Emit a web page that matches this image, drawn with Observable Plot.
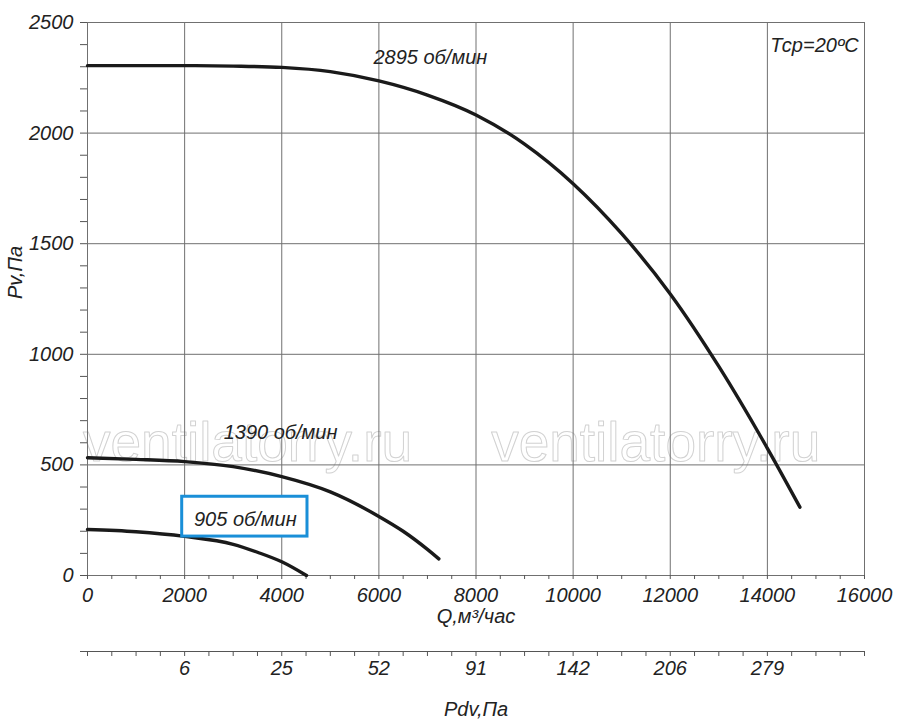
<!DOCTYPE html>
<html>
<head>
<meta charset="utf-8">
<script src="https://cdn.jsdelivr.net/npm/d3@7"></script>
<script src="https://cdn.jsdelivr.net/npm/@observablehq/plot@0.6"></script>
<style>
  body { margin: 0; background: #fff; }
</style>
</head>
<body>
<div id="chart"></div>
<script>
// ---- axis ticks ----
const qMajor = d3.range(0, 16001, 2000);
const qMinor = d3.range(0, 16001, 500);
const pMajor = d3.range(0, 2501, 500);
const pMinor = d3.range(0, 2501, 100);

// secondary (dynamic pressure) axis
const pdvQ = [2000, 4000, 6000, 8000, 10000, 12000, 14000];
const pdvLabels = ["6", "25", "52", "91", "142", "206", "279"];

// ---- curves: Q (м³/час) and Pv (Па) ----
const q2895 = [0, 1000, 2000, 3000, 4000, 5000, 6000, 7000, 8000, 9000, 10000, 11000, 12000, 13000, 14000, 14670];
const p2895 = [2305, 2305, 2305, 2303, 2297, 2278, 2236, 2172, 2082, 1950, 1771, 1545, 1273, 945, 575, 309];

const q1390 = [0, 1000, 2000, 3000, 4000, 5000, 6000, 6500, 7000, 7235];
const p1390 = [532, 525, 515, 492, 447, 378, 267, 200, 118, 75];

const q905 = [0, 1000, 2000, 3000, 3500, 4000, 4510];
const p905 = [208, 198, 177, 141, 105, 62, 0];

// ---- annotations ----
const curveLabels = ["2895 об/мин", "1390 об/мин", "905 об/мин"];
const curveLabelQ = [7060, 3975, 3250];
const curveLabelP = [2342, 648, 253];

const boxQ = [1950, 4530];
const boxP = [176, 356];

const tempText = "Тср=20ºC";
const tempQ = 14970, tempP = 2396;

const watermark = "ventilatorry.ru";
const watermarkQ = [3295, 11700];
const watermarkP = 597;

const xTitle = "Q,м³/час";
const yTitle = "Pv,Па";
const x2Title = "Pdv,Па";

// ---- build tables ----
const toRows = (q, p) => q.map((v, i) => ({q: v, p: p[i]}));
const rows2895 = toRows(q2895, p2895);
const rows1390 = toRows(q1390, p1390);
const rows905 = toRows(q905, p905);
const labelRows = curveLabels.map((t, i) => ({t, q: curveLabelQ[i], p: curveLabelP[i]}));
const wmRows = watermarkQ.map(q => ({q, p: watermarkP, t: watermark}));

const gridColor = "#707070";
const tickColor = "#555";
const curveStyle = {x: "q", y: "p", curve: "monotone-x", stroke: "#1a1a1a", strokeWidth: 3.4};

const chart = Plot.plot({
  width: 900,
  height: 728,
  marginTop: 22,
  marginRight: 36,
  marginBottom: 153,
  marginLeft: 87,
  style: {
    fontFamily: "'Liberation Sans', Arial, sans-serif",
    fontSize: "20px",
    fontStyle: "italic",
    background: "#fff",
    color: "#222"
  },
  x: {domain: [0, 16000]},
  y: {domain: [0, 2500]},
  marks: [
    // watermark
    Plot.text(wmRows, {
      x: "q", y: "p", text: "t", fontSize: 55, fontStyle: "normal",
      fill: "none", stroke: "#d2d2d2", strokeWidth: 1, lineAnchor: "middle"
    }),
    // grid
    Plot.gridX(qMajor, {stroke: gridColor, strokeOpacity: 1}),
    Plot.gridY(pMajor, {stroke: gridColor, strokeOpacity: 1}),
    Plot.frame({stroke: gridColor}),
    // y axis
    Plot.axisY(pMinor, {
      tickSize: 7, tickPadding: 7, stroke: tickColor,
      tickFormat: d => (d % 500 === 0 ? String(d) : ""),
      label: null, fill: "#222", fontSize: 20
    }),
    // primary x axis
    Plot.axisX(qMinor, {
      anchor: "bottom", tickSize: 4, tickPadding: 8, stroke: tickColor,
      tickFormat: d => (d % 2000 === 0 ? String(d) : ""),
      label: null, fill: "#222", fontSize: 20
    }),
    // secondary axis (Pdv)
    Plot.ruleY([0], {dy: 76, insetLeft: -7, stroke: tickColor}),
    Plot.axisX(qMinor, {
      anchor: "bottom", dy: 76, tickSize: 5, tickPadding: 4, stroke: tickColor,
      tickFormat: d => {
        const i = pdvQ.indexOf(d);
        return i >= 0 ? pdvLabels[i] : "";
      },
      label: null, fill: "#222", fontSize: 20
    }),
    // axis titles
    Plot.text([xTitle], {frameAnchor: "bottom", dy: 47, text: d => d, fill: "#222", fontSize: 20}),
    Plot.text([x2Title], {frameAnchor: "bottom", dy: 140, text: d => d, fill: "#222", fontSize: 20}),
    Plot.text([yTitle], {frameAnchor: "left", dx: -72, rotate: -90, text: d => d, fill: "#222", fontSize: 20}),
    // curves
    Plot.line(rows2895, curveStyle),
    Plot.line(rows1390, curveStyle),
    Plot.line(rows905, curveStyle),
    // highlighted label box
    Plot.rect([0], {x1: () => boxQ[0], x2: () => boxQ[1], y1: () => boxP[0], y2: () => boxP[1],
      fill: "#fff", stroke: "#1a8fd8", strokeWidth: 3}),
    // labels
    Plot.text(labelRows, {x: "q", y: "p", text: "t", fill: "#222", fontSize: 20}),
    Plot.text([tempText], {x: () => tempQ, y: () => tempP, text: d => d, fill: "#222", fontSize: 20})
  ]
});

document.getElementById("chart").appendChild(chart);
</script>
</body>
</html>
